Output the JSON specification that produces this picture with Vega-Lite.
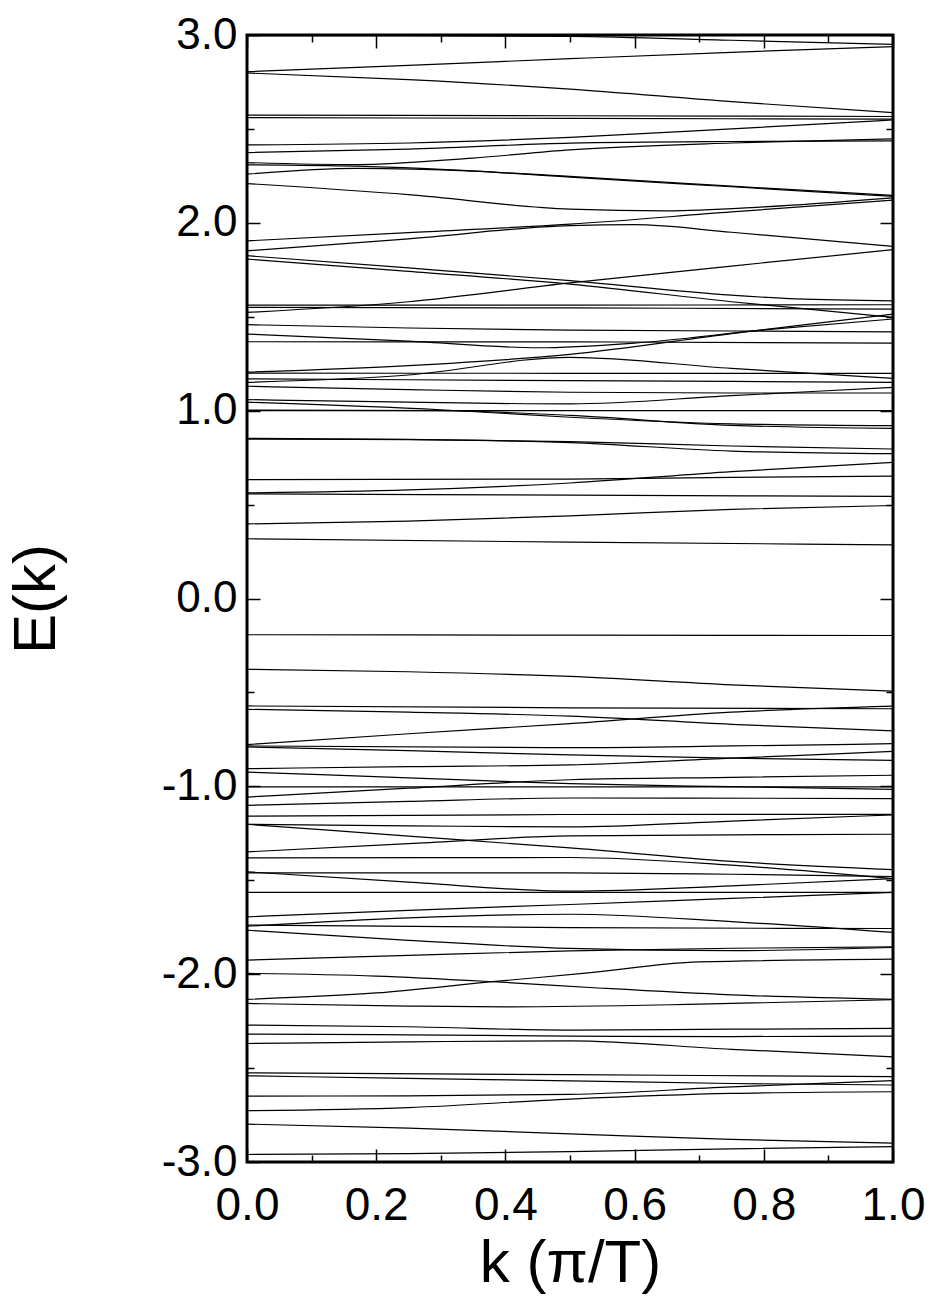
{
  "$schema": "https://vega.github.io/schema/vega-lite/v6.json",
  "width": 646,
  "height": 1127,
  "autosize": {"type": "none"},
  "padding": {"left": 247, "top": 35, "right": 39, "bottom": 138},
  "background": "white",
  "config": {
    "view": {"stroke": "black", "strokeWidth": 3},
    "axis": {"grid": false, "domain": false, "tickColor": "black", "tickWidth": 1.5, "labelFont": "Liberation Sans", "labelFontSize": 46, "labelColor": "black", "titleFont": "Liberation Sans", "titleColor": "black", "titleFontWeight": "normal", "labelOverlap": false}
  },
  "data": {"values": [
    {"b":"T1","k":0,"E":2.997},{"b":"T1","k":0.25,"E":2.997},{"b":"T1","k":0.5,"E":2.993},{"b":"T1","k":0.75,"E":2.972},{"b":"T1","k":1,"E":2.95},
    {"b":"T2","k":0,"E":2.805},{"b":"T2","k":0.25,"E":2.838},{"b":"T2","k":0.5,"E":2.874},{"b":"T2","k":0.75,"E":2.908},{"b":"T2","k":1,"E":2.938},
    {"b":"T3","k":0,"E":2.798},{"b":"T3","k":0.25,"E":2.762},{"b":"T3","k":0.5,"E":2.712},{"b":"T3","k":0.75,"E":2.645},{"b":"T3","k":1,"E":2.587},
    {"b":"T4","k":0,"E":2.573},{"b":"T4","k":0.5,"E":2.57},{"b":"T4","k":1,"E":2.566},
    {"b":"T5","k":0,"E":2.56},{"b":"T5","k":0.5,"E":2.556},{"b":"T5","k":1,"E":2.552},
    {"b":"T6","k":0,"E":2.415},{"b":"T6","k":0.25,"E":2.425},{"b":"T6","k":0.5,"E":2.455},{"b":"T6","k":0.75,"E":2.5},{"b":"T6","k":1,"E":2.548},
    {"b":"T7","k":0,"E":2.374},{"b":"T7","k":0.25,"E":2.392},{"b":"T7","k":0.5,"E":2.424},{"b":"T7","k":0.75,"E":2.433},{"b":"T7","k":1,"E":2.436},
    {"b":"T8","k":0,"E":2.321},{"b":"T8","k":0.17,"E":2.31},{"b":"T8","k":0.35,"E":2.345},{"b":"T8","k":0.5,"E":2.388},{"b":"T8","k":0.75,"E":2.425},{"b":"T8","k":1,"E":2.447},
    {"b":"T9","k":0,"E":2.309},{"b":"T9","k":0.17,"E":2.302},{"b":"T9","k":0.5,"E":2.247},{"b":"T9","k":0.75,"E":2.195},{"b":"T9","k":1,"E":2.146},
    {"b":"T10","k":0,"E":2.259},{"b":"T10","k":0.17,"E":2.29},{"b":"T10","k":0.35,"E":2.275},{"b":"T10","k":0.5,"E":2.243},{"b":"T10","k":0.75,"E":2.192},{"b":"T10","k":1,"E":2.141},
    {"b":"T11","k":0,"E":2.209},{"b":"T11","k":0.25,"E":2.15},{"b":"T11","k":0.5,"E":2.073},{"b":"T11","k":0.65,"E":2.064},{"b":"T11","k":0.8,"E":2.085},{"b":"T11","k":1,"E":2.133},
    {"b":"T12","k":0,"E":1.904},{"b":"T12","k":0.25,"E":1.948},{"b":"T12","k":0.5,"E":1.993},{"b":"T12","k":0.75,"E":2.058},{"b":"T12","k":1,"E":2.121},
    {"b":"T13","k":0,"E":1.851},{"b":"T13","k":0.25,"E":1.915},{"b":"T13","k":0.5,"E":1.985},{"b":"T13","k":0.6,"E":1.99},{"b":"T13","k":0.75,"E":1.95},{"b":"T13","k":1,"E":1.874},
    {"b":"T14","k":0,"E":1.825},{"b":"T14","k":0.25,"E":1.76},{"b":"T14","k":0.5,"E":1.692},{"b":"T14","k":0.75,"E":1.615},{"b":"T14","k":0.85,"E":1.595},{"b":"T14","k":1,"E":1.585},
    {"b":"T15","k":0,"E":1.807},{"b":"T15","k":0.25,"E":1.742},{"b":"T15","k":0.5,"E":1.674},{"b":"T15","k":0.75,"E":1.58},{"b":"T15","k":1,"E":1.497},
    {"b":"T16","k":0,"E":1.523},{"b":"T16","k":0.25,"E":1.58},{"b":"T16","k":0.5,"E":1.68},{"b":"T16","k":0.75,"E":1.77},{"b":"T16","k":1,"E":1.857},
    {"b":"T17","k":0,"E":1.562},{"b":"T17","k":0.5,"E":1.562},{"b":"T17","k":1,"E":1.564},
    {"b":"T18","k":0,"E":1.55},{"b":"T18","k":0.5,"E":1.547},{"b":"T18","k":1,"E":1.541},
    {"b":"T19","k":0,"E":1.458},{"b":"T19","k":0.25,"E":1.44},{"b":"T19","k":0.5,"E":1.429},{"b":"T19","k":0.75,"E":1.424},{"b":"T19","k":1,"E":1.42},
    {"b":"T20","k":0,"E":1.408},{"b":"T20","k":0.25,"E":1.37},{"b":"T20","k":0.45,"E":1.335},{"b":"T20","k":0.6,"E":1.36},{"b":"T20","k":0.8,"E":1.43},{"b":"T20","k":1,"E":1.488},
    {"b":"T21","k":0,"E":1.367},{"b":"T21","k":0.5,"E":1.366},{"b":"T21","k":1,"E":1.36},
    {"b":"L1","k":0,"E":1.205},{"b":"L1","k":0.25,"E":1.24},{"b":"L1","k":0.5,"E":1.3},{"b":"L1","k":0.75,"E":1.41},{"b":"L1","k":1,"E":1.514},
    {"b":"L2","k":0,"E":1.2},{"b":"L2","k":0.5,"E":1.199},{"b":"L2","k":1,"E":1.199},
    {"b":"L3","k":0,"E":1.169},{"b":"L3","k":0.5,"E":1.16},{"b":"L3","k":1,"E":1.151},
    {"b":"L4","k":0,"E":1.151},{"b":"L4","k":0.25,"E":1.19},{"b":"L4","k":0.5,"E":1.284},{"b":"L4","k":0.75,"E":1.225},{"b":"L4","k":1,"E":1.172},
    {"b":"L5","k":0,"E":1.13},{"b":"L5","k":0.25,"E":1.112},{"b":"L5","k":0.5,"E":1.098},{"b":"L5","k":0.75,"E":1.094},{"b":"L5","k":1,"E":1.094},
    {"b":"L6","k":0,"E":1.059},{"b":"L6","k":0.25,"E":1.045},{"b":"L6","k":0.5,"E":1.036},{"b":"L6","k":0.75,"E":1.08},{"b":"L6","k":1,"E":1.124},
    {"b":"L7","k":0,"E":1.045},{"b":"L7","k":0.3,"E":1.005},{"b":"L7","k":0.5,"E":0.965},{"b":"L7","k":0.75,"E":0.93},{"b":"L7","k":1,"E":0.92},
    {"b":"L8","k":0,"E":1.0},{"b":"L8","k":0.5,"E":1.0},{"b":"L8","k":1,"E":1.0},
    {"b":"L9","k":0,"E":1.003},{"b":"L9","k":0.3,"E":1.0},{"b":"L9","k":0.5,"E":0.975},{"b":"L9","k":0.75,"E":0.922},{"b":"L9","k":1,"E":0.906},
    {"b":"M1","k":0,"E":0.853},{"b":"M1","k":0.25,"E":0.847},{"b":"M1","k":0.5,"E":0.835},{"b":"M1","k":0.75,"E":0.812},{"b":"M1","k":1,"E":0.796},
    {"b":"M2","k":0,"E":0.848},{"b":"M2","k":0.25,"E":0.846},{"b":"M2","k":0.5,"E":0.83},{"b":"M2","k":0.75,"E":0.785},{"b":"M2","k":1,"E":0.771},
    {"b":"M3","k":0,"E":0.633},{"b":"M3","k":0.5,"E":0.636},{"b":"M3","k":0.75,"E":0.645},{"b":"M3","k":1,"E":0.651},
    {"b":"M4","k":0,"E":0.562},{"b":"M4","k":0.25,"E":0.578},{"b":"M4","k":0.5,"E":0.615},{"b":"M4","k":0.75,"E":0.675},{"b":"M4","k":1,"E":0.725},
    {"b":"M5","k":0,"E":0.557},{"b":"M5","k":0.5,"E":0.55},{"b":"M5","k":1,"E":0.544},
    {"b":"M6","k":0,"E":0.397},{"b":"M6","k":0.25,"E":0.412},{"b":"M6","k":0.5,"E":0.44},{"b":"M6","k":0.75,"E":0.475},{"b":"M6","k":1,"E":0.495},
    {"b":"M7","k":0,"E":0.318},{"b":"M7","k":0.5,"E":0.3},{"b":"M7","k":1,"E":0.286},
    {"b":"Z1","k":0,"E":-0.193},{"b":"Z1","k":0.5,"E":-0.195},{"b":"Z1","k":1,"E":-0.197},
    {"b":"Z2","k":0,"E":-0.377},{"b":"Z2","k":0.25,"E":-0.39},{"b":"Z2","k":0.5,"E":-0.415},{"b":"Z2","k":0.75,"E":-0.46},{"b":"Z2","k":1,"E":-0.493},
    {"b":"N1","k":0,"E":-0.572},{"b":"N1","k":0.5,"E":-0.582},{"b":"N1","k":1,"E":-0.587},
    {"b":"N2","k":0,"E":-0.59},{"b":"N2","k":0.25,"E":-0.605},{"b":"N2","k":0.5,"E":-0.626},{"b":"N2","k":0.75,"E":-0.67},{"b":"N2","k":1,"E":-0.705},
    {"b":"N3","k":0,"E":-0.778},{"b":"N3","k":0.25,"E":-0.72},{"b":"N3","k":0.5,"E":-0.666},{"b":"N3","k":0.75,"E":-0.605},{"b":"N3","k":1,"E":-0.573},
    {"b":"N4","k":0,"E":-0.785},{"b":"N4","k":0.5,"E":-0.794},{"b":"N4","k":0.75,"E":-0.785},{"b":"N4","k":1,"E":-0.773},
    {"b":"N5","k":0,"E":-0.79},{"b":"N5","k":0.25,"E":-0.81},{"b":"N5","k":0.5,"E":-0.833},{"b":"N5","k":0.75,"E":-0.85},{"b":"N5","k":1,"E":-0.862},
    {"b":"N6","k":0,"E":-0.906},{"b":"N6","k":0.25,"E":-0.895},{"b":"N6","k":0.5,"E":-0.886},{"b":"N6","k":0.75,"E":-0.85},{"b":"N6","k":1,"E":-0.814},
    {"b":"N7","k":0,"E":-0.924},{"b":"N7","k":0.25,"E":-0.955},{"b":"N7","k":0.5,"E":-0.986},{"b":"N7","k":0.75,"E":-1.002},{"b":"N7","k":1,"E":-1.016},
    {"b":"N8","k":0,"E":-1.003},{"b":"N8","k":0.5,"E":-1.003},{"b":"N8","k":1,"E":-1.003},
    {"b":"N9","k":0,"E":-1.057},{"b":"N9","k":0.25,"E":-1.01},{"b":"N9","k":0.5,"E":-0.965},{"b":"N9","k":0.75,"E":-0.952},{"b":"N9","k":1,"E":-0.941},
    {"b":"N10","k":0,"E":-1.101},{"b":"N10","k":0.25,"E":-1.08},{"b":"N10","k":0.5,"E":-1.062},{"b":"N10","k":1,"E":-1.065},
    {"b":"N11","k":0,"E":-1.159},{"b":"N11","k":0.5,"E":-1.15},{"b":"N11","k":1,"E":-1.149},
    {"b":"N12","k":0,"E":-1.202},{"b":"N12","k":0.25,"E":-1.21},{"b":"N12","k":0.5,"E":-1.216},{"b":"N12","k":0.75,"E":-1.185},{"b":"N12","k":1,"E":-1.152},
    {"b":"N13","k":0,"E":-1.202},{"b":"N13","k":0.25,"E":-1.265},{"b":"N13","k":0.5,"E":-1.328},{"b":"N13","k":0.75,"E":-1.4},{"b":"N13","k":1,"E":-1.443},
    {"b":"N14","k":0,"E":-1.349},{"b":"N14","k":0.25,"E":-1.305},{"b":"N14","k":0.5,"E":-1.264},{"b":"N14","k":0.75,"E":-1.258},{"b":"N14","k":1,"E":-1.255},
    {"b":"N15","k":0,"E":-1.381},{"b":"N15","k":0.5,"E":-1.379},{"b":"N15","k":0.75,"E":-1.42},{"b":"N15","k":1,"E":-1.491},
    {"b":"N16","k":0,"E":-1.455},{"b":"N16","k":0.25,"E":-1.51},{"b":"N16","k":0.5,"E":-1.558},{"b":"N16","k":0.75,"E":-1.53},{"b":"N16","k":1,"E":-1.491},
    {"b":"N17","k":0,"E":-1.461},{"b":"N17","k":0.5,"E":-1.461},{"b":"N17","k":0.75,"E":-1.468},{"b":"N17","k":1,"E":-1.48},
    {"b":"N18","k":0,"E":-1.565},{"b":"N18","k":0.5,"E":-1.565},{"b":"N18","k":1,"E":-1.565},
    {"b":"N19","k":0,"E":-1.695},{"b":"N19","k":0.25,"E":-1.66},{"b":"N19","k":0.5,"E":-1.629},{"b":"N19","k":0.75,"E":-1.597},{"b":"N19","k":1,"E":-1.565},
    {"b":"N20","k":0,"E":-1.739},{"b":"N20","k":0.5,"E":-1.752},{"b":"N20","k":1,"E":-1.757},
    {"b":"N21","k":0,"E":-1.745},{"b":"N21","k":0.25,"E":-1.7},{"b":"N21","k":0.5,"E":-1.681},{"b":"N21","k":0.75,"E":-1.72},{"b":"N21","k":1,"E":-1.778},
    {"b":"N22","k":0,"E":-1.766},{"b":"N22","k":0.25,"E":-1.82},{"b":"N22","k":0.5,"E":-1.863},{"b":"N22","k":0.75,"E":-1.875},{"b":"N22","k":1,"E":-1.858},
    {"b":"N23","k":0,"E":-1.925},{"b":"N23","k":0.25,"E":-1.9},{"b":"N23","k":0.5,"E":-1.876},{"b":"N23","k":0.75,"E":-1.862},{"b":"N23","k":1,"E":-1.855},
    {"b":"N25","k":0,"E":-1.996},{"b":"N25","k":0.2,"E":-2.01},{"b":"N25","k":0.38,"E":-2.04},{"b":"N25","k":0.55,"E":-2.075},{"b":"N25","k":0.75,"E":-2.11},{"b":"N25","k":1,"E":-2.134},
    {"b":"N26","k":0,"E":-2.134},{"b":"N26","k":0.2,"E":-2.1},{"b":"N26","k":0.38,"E":-2.04},{"b":"N26","k":0.52,"E":-1.996},{"b":"N26","k":0.7,"E":-1.935},{"b":"N26","k":1,"E":-1.92},
    {"b":"N27","k":0,"E":-2.156},{"b":"N27","k":0.25,"E":-2.17},{"b":"N27","k":0.4,"E":-2.174},{"b":"N27","k":0.7,"E":-2.16},{"b":"N27","k":1,"E":-2.136},
    {"b":"N28","k":0,"E":-2.271},{"b":"N28","k":0.25,"E":-2.28},{"b":"N28","k":0.5,"E":-2.298},{"b":"N28","k":0.75,"E":-2.293},{"b":"N28","k":1,"E":-2.289},
    {"b":"N29","k":0,"E":-2.319},{"b":"N29","k":0.25,"E":-2.323},{"b":"N29","k":0.5,"E":-2.33},{"b":"N29","k":0.75,"E":-2.332},{"b":"N29","k":1,"E":-2.33},
    {"b":"N30","k":0,"E":-2.369},{"b":"N30","k":0.25,"E":-2.36},{"b":"N30","k":0.5,"E":-2.355},{"b":"N30","k":0.75,"E":-2.4},{"b":"N30","k":1,"E":-2.44},
    {"b":"N31","k":0,"E":-2.525},{"b":"N31","k":0.5,"E":-2.535},{"b":"N31","k":1,"E":-2.546},
    {"b":"N32","k":0,"E":-2.541},{"b":"N32","k":0.25,"E":-2.555},{"b":"N32","k":0.5,"E":-2.568},{"b":"N32","k":0.75,"E":-2.582},{"b":"N32","k":1,"E":-2.59},
    {"b":"N33","k":0,"E":-2.649},{"b":"N33","k":0.25,"E":-2.648},{"b":"N33","k":0.5,"E":-2.64},{"b":"N33","k":0.75,"E":-2.6},{"b":"N33","k":1,"E":-2.567},
    {"b":"N34","k":0,"E":-2.727},{"b":"N34","k":0.25,"E":-2.71},{"b":"N34","k":0.5,"E":-2.665},{"b":"N34","k":0.75,"E":-2.635},{"b":"N34","k":1,"E":-2.626},
    {"b":"N35","k":0,"E":-2.798},{"b":"N35","k":0.25,"E":-2.82},{"b":"N35","k":0.5,"E":-2.85},{"b":"N35","k":0.75,"E":-2.88},{"b":"N35","k":1,"E":-2.9},
    {"b":"N36","k":0,"E":-2.96},{"b":"N36","k":0.25,"E":-2.955},{"b":"N36","k":0.5,"E":-2.945},{"b":"N36","k":0.75,"E":-2.93},{"b":"N36","k":1,"E":-2.918}
  ]},
  "layer": [
    {
      "mark": {"type": "line", "color": "black", "strokeWidth": 1.2, "interpolate": "monotone"},
      "encoding": {
        "detail": {"field": "b", "type": "nominal"},
        "x": {"field": "k", "type": "quantitative", "scale": {"domain": [0, 1], "nice": false},
          "axis": {"orient": "bottom", "values": [0,0.1,0.2,0.3,0.4,0.5,0.6,0.7,0.8,0.9,1.0],
            "labelExpr": "round(datum.value*10)%2==0 ? format(datum.value,'.1f') : ''",
            "tickSize": {"condition": {"test": "round(datum.value*10)%2==0", "value": -13}, "value": -7},
            "labelPadding": 34, "labelFlush": false, "title": "k (π/T)", "titleFontSize": 60, "titlePadding": 0}},
        "y": {"field": "E", "type": "quantitative", "scale": {"domain": [-3, 3], "nice": false},
          "axis": {"orient": "left", "values": [-3,-2.5,-2,-1.5,-1,-0.5,0,0.5,1,1.5,2,2.5,3],
            "labelExpr": "datum.value%1==0 ? (datum.value<0 ? '-' : '') + format(abs(datum.value),'.1f') : ''",
            "tickSize": {"condition": {"test": "datum.value%1==0", "value": -13}, "value": -7},
            "labelFontSize": 44, "labelPadding": 23, "title": "E(k)", "titleFontSize": 60, "titlePadding": 94}}
      }
    },
    {
      "mark": {"type": "point", "opacity": 0},
      "encoding": {
        "x": {"field": "k", "type": "quantitative", "scale": {"domain": [0, 1], "nice": false},
          "axis": {"orient": "top", "values": [0,0.1,0.2,0.3,0.4,0.5,0.6,0.7,0.8,0.9,1.0], "labels": false, "title": null,
            "tickSize": {"condition": {"test": "round(datum.value*10)%2==0", "value": -13}, "value": -7}}},
        "y": {"field": "E", "type": "quantitative", "scale": {"domain": [-3, 3], "nice": false},
          "axis": {"orient": "right", "values": [-3,-2.5,-2,-1.5,-1,-0.5,0,0.5,1,1.5,2,2.5,3], "labels": false, "title": null,
            "tickSize": {"condition": {"test": "datum.value%1==0", "value": -13}, "value": -7}}}
      }
    }
  ],
  "resolve": {"axis": {"x": "independent", "y": "independent"}}
}
